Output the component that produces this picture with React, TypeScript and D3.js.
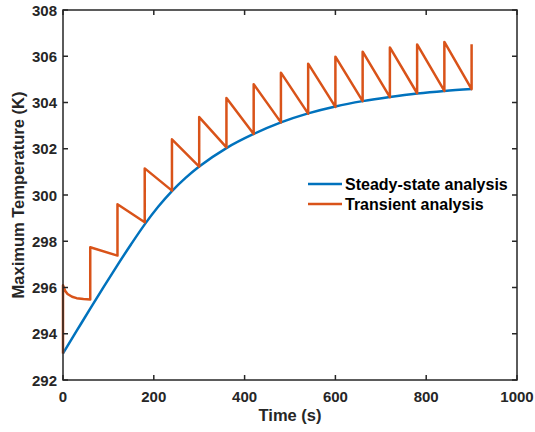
import React from 'react';
import * as d3 from 'd3';

// steady-state analysis (time in s, temperature in K)
const steadyTime = [0, 30, 60, 90, 120, 150, 180, 210, 240, 270, 300, 360, 420, 480, 540, 600, 660, 720, 780, 840, 900];
const steadyTemp = [293.15, 294.12, 295.09, 296.04, 296.97, 297.87, 298.73, 299.5, 300.17, 300.74, 301.23, 302.03, 302.64, 303.14, 303.53, 303.83, 304.06, 304.24, 304.39, 304.5, 304.58];

// transient analysis
const transientTime = [0, 0, 5, 10, 20, 30, 45, 60, 60, 120, 120, 180, 180, 240, 240, 300, 300, 360, 360, 420, 420, 480, 480, 540, 540, 600, 600, 660, 660, 720, 720, 780, 780, 840, 840, 900, 900];
const transientTemp = [293.15, 296.1, 295.85, 295.72, 295.6, 295.54, 295.5, 295.48, 297.74, 297.38, 299.6, 298.82, 301.15, 300.19, 302.41, 301.23, 303.37, 302.06, 304.19, 302.64, 304.79, 303.14, 305.29, 303.52, 305.68, 303.81, 305.98, 304.06, 306.2, 304.23, 306.38, 304.4, 306.51, 304.5, 306.62, 304.58, 306.52];

const xTicks = [0, 200, 400, 600, 800, 1000];
const yTicks = [292, 294, 296, 298, 300, 302, 304, 306, 308];

const legendItems = [
  { label: 'Steady-state analysis', color: '#0072BD' },
  { label: 'Transient analysis', color: '#D95319' },
];

const W = 535;
const H = 432;
const margin = { top: 10, right: 18, bottom: 52, left: 63 };
const font = '"Liberation Sans", Arial, Helvetica, sans-serif';
const ink = '#262626';

export default function App() {
  const x = d3.scaleLinear().domain([0, 1000]).range([margin.left, W - margin.right]);
  const y = d3.scaleLinear().domain([292, 308]).range([H - margin.bottom, margin.top]);

  const line = d3.line<[number, number]>()
    .x(d => x(d[0]))
    .y(d => y(d[1]));

  const steadyCurve = d3.line<[number, number]>()
    .x(d => x(d[0]))
    .y(d => y(d[1]))
    .curve(d3.curveMonotoneX);

  const steady: [number, number][] = steadyTime.map((t, i) => [t, steadyTemp[i]]);
  const transient: [number, number][] = transientTime.map((t, i) => [t, transientTemp[i]]);

  const x0 = x(0), x1 = x(1000), y0 = y(292), y1 = y(308);
  const tick = 5;

  return (
    <svg width={W} height={H} style={{ position: 'absolute', left: 0, top: 0, background: '#fff' }}>
      {/* data lines */}
      <path d={steadyCurve(steady) || ''} fill="none" stroke="#0072BD" strokeWidth={2.5} />
      <path d={line(transient) || ''} fill="none" stroke="#D95319" strokeWidth={2.5} strokeLinejoin="round" />

      {/* box */}
      <rect x={x0} y={y1} width={x1 - x0} height={y0 - y1} fill="none" stroke={ink} strokeWidth={1.5} />

      {/* x ticks */}
      {xTicks.map(t => (
        <g key={'x' + t}>
          <line x1={x(t)} x2={x(t)} y1={y0} y2={y0 - tick} stroke={ink} strokeWidth={1.5} />
          <line x1={x(t)} x2={x(t)} y1={y1} y2={y1 + tick} stroke={ink} strokeWidth={1.5} />
          <text x={x(t)} y={y0 + 22} textAnchor="middle" fontFamily={font} fontWeight="bold" fontSize={15} fill={ink}>{t}</text>
        </g>
      ))}

      {/* y ticks */}
      {yTicks.map(t => (
        <g key={'y' + t}>
          <line x1={x0} x2={x0 + tick} y1={y(t)} y2={y(t)} stroke={ink} strokeWidth={1.5} />
          <line x1={x1} x2={x1 - tick} y1={y(t)} y2={y(t)} stroke={ink} strokeWidth={1.5} />
          <text x={x0 - 6} y={y(t) + 5.5} textAnchor="end" fontFamily={font} fontWeight="bold" fontSize={15} fill={ink}>{t}</text>
        </g>
      ))}

      {/* axis labels */}
      <text x={(x0 + x1) / 2} y={H - 11} textAnchor="middle" fontFamily={font} fontWeight="bold" fontSize={16.5} fill={ink}>Time (s)</text>
      <text transform={`translate(24, ${(y0 + y1) / 2}) rotate(-90)`} textAnchor="middle" fontFamily={font} fontWeight="bold" fontSize={16.5} fill={ink}>Maximum Temperature (K)</text>

      {/* legend */}
      {legendItems.map((d, i) => (
        <g key={d.label} transform={`translate(308, ${184 + i * 20})`}>
          <line x1={0} x2={34} y1={0} y2={0} stroke={d.color} strokeWidth={2.5} />
          <text x={37} y={5.5} fontFamily={font} fontWeight="bold" fontSize={16} fill="#000">{d.label}</text>
        </g>
      ))}
    </svg>
  );
}
